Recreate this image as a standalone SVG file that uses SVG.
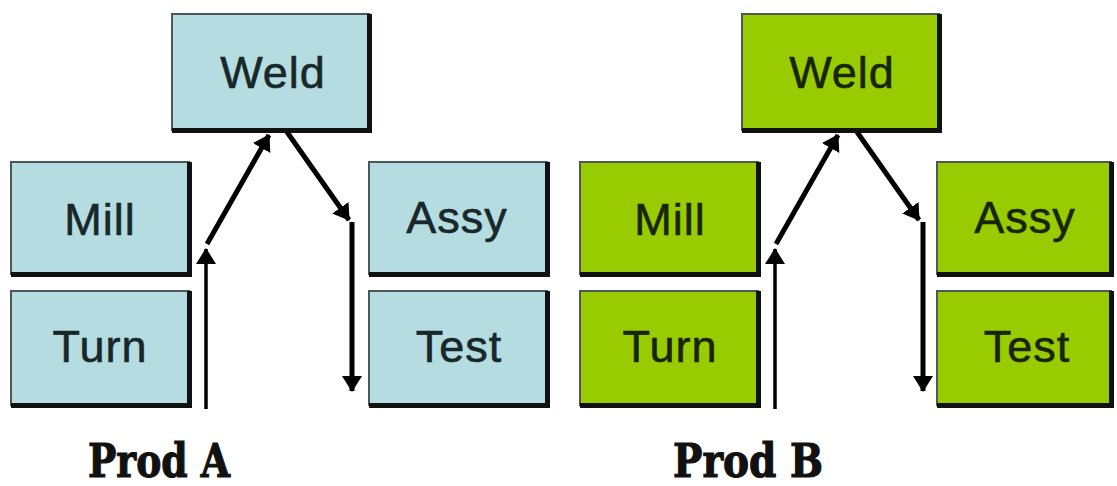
<svg xmlns="http://www.w3.org/2000/svg" width="1117" height="486" viewBox="0 0 1117 486">
  <style>
    .blue { fill: #b5dce0; }
    .green { fill: #99cc00; }
    .edge { stroke: #4d5858; stroke-width: 2; }
    .shade { fill: none; stroke: #111; stroke-width: 5; stroke-linejoin: miter; }
    .lbl { font-family: "Liberation Sans", Arial, sans-serif; font-size: 45px; letter-spacing: 1px; text-anchor: middle; stroke-width: 0.6px; }
    .lblA { fill: #18282a; stroke: #18282a; }
    .lblB { fill: #182600; stroke: #182600; }
    .prod { font-family: "DejaVu Serif", "Liberation Serif", serif; font-weight: bold; font-size: 46px; fill: #111; stroke: #111; stroke-width: 1.2px; }
    .flow { fill: none; stroke: #000; stroke-width: 5; }
    .thin { stroke-width: 3.5; }
  </style>
  <defs>
    <marker id="head" markerUnits="userSpaceOnUse" markerWidth="22" markerHeight="24" refX="15" refY="11" orient="auto">
      <path d="M0,1 L16,11 L0,21 Z" fill="#000"/>
    </marker>
  </defs>
  <rect width="1117" height="486" fill="#fff"/>

  <!-- Product A cell -->
  <g id="weldA">
    <rect class="blue edge" x="172" y="14" width="197" height="116"/>
    <path class="shade" d="M172,130.5 H369.5 V14"/>
    <text class="lbl lblA" x="273" y="88">Weld</text>
  </g>
  <g id="millA">
    <rect class="blue edge" x="11" y="162" width="178" height="112"/>
    <path class="shade" d="M11,274.5 H189.5 V162"/>
    <text class="lbl lblA" x="100" y="235">Mill</text>
  </g>
  <g id="turnA">
    <rect class="blue edge" x="11" y="291" width="178" height="114"/>
    <path class="shade" d="M11,405.5 H189.5 V291"/>
    <text class="lbl lblA" x="100" y="362">Turn</text>
  </g>
  <g id="assyA">
    <rect class="blue edge" x="369" y="162" width="178" height="112"/>
    <path class="shade" d="M369,274.5 H547.5 V162"/>
    <text class="lbl lblA" x="457" y="233">Assy</text>
  </g>
  <g id="testA">
    <rect class="blue edge" x="369" y="291" width="178" height="114"/>
    <path class="shade" d="M369,405.5 H547.5 V291"/>
    <text class="lbl lblA" x="459" y="362">Test</text>
  </g>
  <g id="prodA">
    <text class="prod" x="88" y="477" textLength="142" lengthAdjust="spacingAndGlyphs">Prod A</text>
  </g>

  <!-- Product B cell -->
  <g id="weldB">
    <rect class="green edge" x="742" y="14" width="197" height="116"/>
    <path class="shade" d="M742,130.5 H939.5 V14"/>
    <text class="lbl lblB" x="842" y="88">Weld</text>
  </g>
  <g id="millB">
    <rect class="green edge" x="580" y="162" width="178" height="112"/>
    <path class="shade" d="M580,274.5 H758.5 V162"/>
    <text class="lbl lblB" x="670" y="235">Mill</text>
  </g>
  <g id="turnB">
    <rect class="green edge" x="580" y="291" width="178" height="114"/>
    <path class="shade" d="M580,405.5 H758.5 V291"/>
    <text class="lbl lblB" x="670" y="362">Turn</text>
  </g>
  <g id="assyB">
    <rect class="green edge" x="937" y="162" width="174" height="112"/>
    <path class="shade" d="M937,274.5 H1111.5 V162"/>
    <text class="lbl lblB" x="1025" y="233">Assy</text>
  </g>
  <g id="testB">
    <rect class="green edge" x="937" y="291" width="174" height="114"/>
    <path class="shade" d="M937,405.5 H1111.5 V291"/>
    <text class="lbl lblB" x="1027" y="362">Test</text>
  </g>
  <g id="prodB">
    <text class="prod" x="673" y="477" textLength="150" lengthAdjust="spacingAndGlyphs">Prod B</text>
  </g>

  <!-- Routings: up into Weld, then down past Assy to Test -->
  <g id="connectors">
    <path class="flow thin" d="M206,409 V249" marker-end="url(#head)"/>
    <path class="flow" d="M207,244 L269,135" marker-end="url(#head)"/>
    <path class="flow" d="M287,132 L349,220" marker-end="url(#head)"/>
    <path class="flow" d="M352,222 V391" marker-end="url(#head)"/>

    <path class="flow thin" d="M775,409 V249" marker-end="url(#head)"/>
    <path class="flow" d="M776,244 L838,135" marker-end="url(#head)"/>
    <path class="flow" d="M857,132 L919,220" marker-end="url(#head)"/>
    <path class="flow" d="M923,222 V391" marker-end="url(#head)"/>
  </g>
</svg>
